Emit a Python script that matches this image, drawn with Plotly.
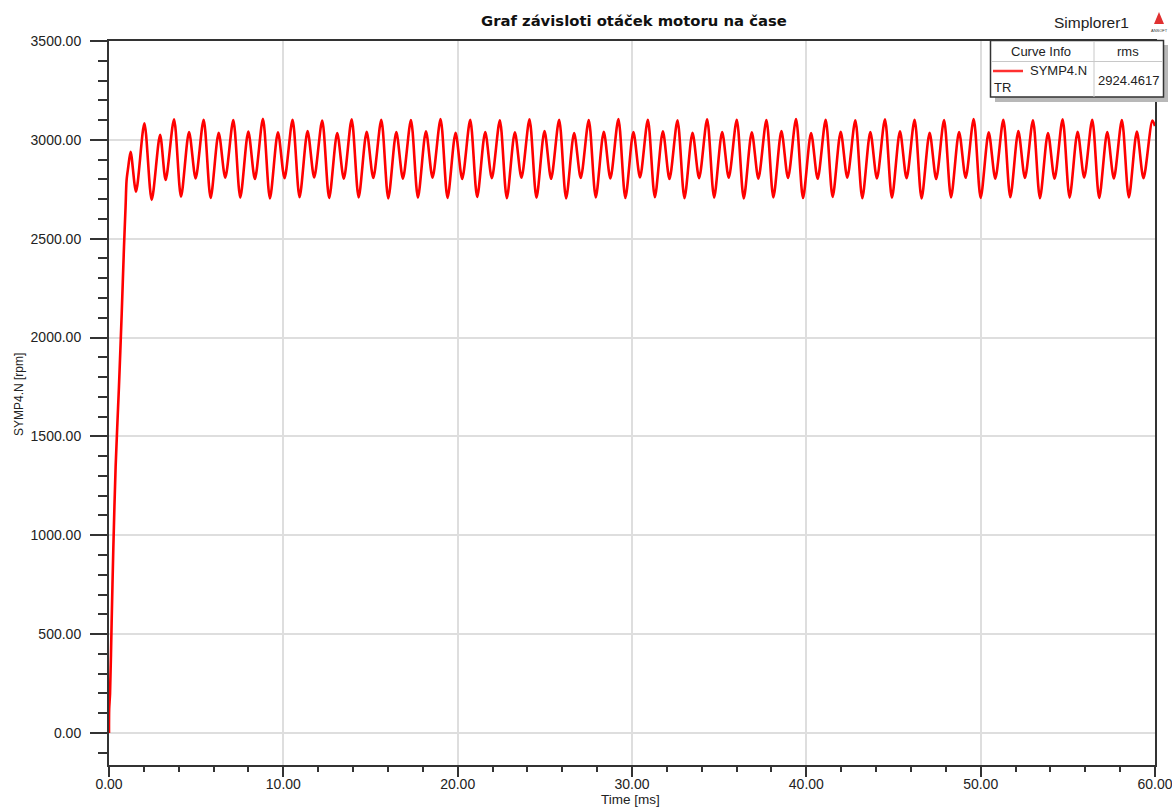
import plotly.graph_objects as go

# ---- data ----
startup_t = [0.0, 0.01, 0.06, 0.15, 0.25, 0.38, 0.57, 0.73, 0.86, 0.95, 1.01, 1.10, 1.24, 1.55, 2.03, 2.45, 2.93, 3.25]
startup_v = [0, 120, 200, 556, 941, 1346, 1750, 2124, 2459, 2660, 2797, 2860, 2940, 2738, 3084, 2696, 3025, 2797]

big_t = [3.73, 5.43, 7.13, 8.83, 10.53, 12.23, 13.92, 15.62, 17.32, 19.02, 20.72, 22.42, 24.12, 25.82,
         27.52, 29.22, 30.91, 32.61, 34.31, 36.01, 37.71, 39.41, 41.11, 42.81, 44.51, 46.21, 47.90,
         49.60, 51.30, 53.00, 54.70, 56.40, 58.10, 59.85]
big_v = [3104, 3102, 3100, 3106, 3101, 3098, 3104, 3102, 3100, 3105, 3101, 3099, 3104, 3102, 3100, 3105,
         3101, 3099, 3104, 3102, 3100, 3105, 3101, 3099, 3104, 3102, 3100, 3105, 3101, 3099, 3104, 3102,
         3100, 3098]

deep_t = [4.13, 5.83, 7.53, 9.23, 10.93, 12.63, 14.32, 16.02, 17.72, 19.42, 21.12, 22.82, 24.52, 26.22,
          27.92, 29.62, 31.31, 33.01, 34.71, 36.41, 38.11, 39.81, 41.51, 43.21, 44.91, 46.61, 48.30,
          50.00, 51.70, 53.40, 55.10, 56.80, 58.50]
deep_v = [2712, 2706, 2708, 2704, 2710, 2706, 2709, 2704, 2708, 2706, 2711, 2705, 2707, 2704, 2709, 2706,
          2710, 2705, 2708, 2704, 2709, 2706, 2711, 2705, 2707, 2704, 2709, 2706, 2710, 2705, 2708, 2706,
          2709]

small_t = [4.59, 6.29, 7.99, 9.69, 11.39, 13.09, 14.78, 16.48, 18.18, 19.88, 21.58, 23.28, 24.98, 26.68,
           28.38, 30.08, 31.77, 33.47, 35.17, 36.87, 38.57, 40.27, 41.97, 43.67, 45.37, 47.07, 48.76,
           50.46, 52.16, 53.86, 55.56, 57.26, 58.96]
small_v = [3040, 3036, 3042, 3038, 3044, 3035, 3041, 3039, 3043, 3036, 3040, 3038, 3044, 3035, 3041, 3039,
           3043, 3036, 3040, 3038, 3044, 3035, 3041, 3039, 3043, 3036, 3040, 3038, 3044, 3035, 3041, 3039,
           3042]

shallow_t = [4.97, 6.67, 8.37, 10.07, 11.77, 13.47, 15.16, 16.86, 18.56, 20.26, 21.96, 23.66, 25.36, 27.06,
             28.76, 30.46, 32.15, 33.85, 35.55, 37.25, 38.95, 40.65, 42.35, 44.05, 45.75, 47.45, 49.14,
             50.84, 52.54, 54.24, 55.94, 57.64, 59.34]
shallow_v = [2805, 2808, 2802, 2806, 2810, 2803, 2807, 2804, 2809, 2802, 2806, 2808, 2803, 2807, 2805, 2810,
             2802, 2806, 2808, 2804, 2807, 2803, 2809, 2805, 2806, 2802, 2808, 2804, 2807, 2803, 2809, 2805,
             2806]

end_t = [60.0]
end_v = [3070]

curve_name = "SYMP4.N"
curve_name2 = "TR"
rms_value = "2924.4617"

# ---- assemble the series ----
pts = list(zip(startup_t, startup_v)) + list(zip(big_t, big_v)) + list(zip(deep_t, deep_v)) \
    + list(zip(small_t, small_v)) + list(zip(shallow_t, shallow_v)) + list(zip(end_t, end_v))
pts.sort(key=lambda p: p[0])
t_all = [p[0] for p in pts]
v_all = [p[1] for p in pts]

FONT = "Liberation Sans, Arial, sans-serif"
AX = "#333333"

fig = go.Figure()
fig.add_trace(go.Scatter(x=t_all, y=v_all, mode="lines",
                         line=dict(color="#ff0000", width=2.6, shape="spline", smoothing=0.8),
                         showlegend=False, hoverinfo="skip"))

L, R, T, B = 109, 17, 41, 42
W, H = 1172, 807
pw, ph = W - L - R, H - T - B


def px(x):
    return (x - L) / pw


def py(y):
    return (H - B - y) / ph


fig.update_layout(
    width=W, height=H,
    margin=dict(l=L, r=R, t=T, b=B, autoexpand=False),
    paper_bgcolor="white", plot_bgcolor="white",
    font=dict(family=FONT, size=14, color="#222222"),
    xaxis=dict(range=[0, 60], showline=True, linecolor=AX, linewidth=2, mirror=True,
               ticks="outside", ticklen=10, tickwidth=1.5, tickcolor=AX,
               tick0=0, dtick=10, tickformat=".2f",
               showgrid=True, gridcolor="#dedede", gridwidth=1.5, zeroline=False,
               minor=dict(ticks="outside", ticklen=5, tickwidth=1.5, tickcolor=AX, dtick=2, showgrid=False),
               ticklabelstandoff=-5, ticklabeloverflow="allow",
               tickfont=dict(size=14, color="#222222")),
    yaxis=dict(range=[-162, 3500], showline=True, linecolor=AX, linewidth=2, mirror=True,
               ticks="outside", ticklen=17, tickwidth=1.5, tickcolor=AX,
               tick0=0, dtick=500, tickformat=".2f",
               showgrid=True, gridcolor="#dedede", gridwidth=1.5, zeroline=False,
               minor=dict(ticks="outside", ticklen=9, tickwidth=1.5, tickcolor=AX, dtick=100, showgrid=False),
               ticklabelstandoff=6, ticklabeloverflow="allow",
               tickfont=dict(size=14, color="#222222")),
)

ann = []
ann.append(dict(text="<b>Graf závisloti otáček motoru na čase</b>", x=px(634), y=py(20),
                xref="paper", yref="paper", showarrow=False, xanchor="center", yanchor="middle",
                font=dict(size=14.8, color="#111111", family="DejaVu Sans, sans-serif")))
ann.append(dict(text="Simplorer1", x=px(1091), y=py(22), xref="paper", yref="paper", showarrow=False,
                xanchor="center", yanchor="middle", font=dict(size=15.5, color="#222222", family=FONT)))
ann.append(dict(text="Time [ms]", x=px(630), y=py(800), xref="paper", yref="paper", showarrow=False,
                xanchor="center", yanchor="middle", font=dict(size=13.5, color="#222222", family=FONT)))
ann.append(dict(text="SYMP4.N [rpm]", x=px(19), y=py(395), xref="paper", yref="paper", showarrow=False,
                textangle=-90, xanchor="center", yanchor="middle",
                font=dict(size=12, color="#222222", family=FONT)))
# legend table texts
ann.append(dict(text="Curve Info", x=px(1041), y=py(51), xref="paper", yref="paper", showarrow=False,
                xanchor="center", yanchor="middle", font=dict(size=13, color="#222222", family=FONT)))
ann.append(dict(text="rms", x=px(1128), y=py(51), xref="paper", yref="paper", showarrow=False,
                xanchor="center", yanchor="middle", font=dict(size=13, color="#222222", family=FONT)))
ann.append(dict(text=curve_name, x=px(1089), y=py(71), xref="paper", yref="paper", showarrow=False,
                xanchor="right", yanchor="middle", font=dict(size=13, color="#222222", family=FONT)))
ann.append(dict(text=curve_name2, x=px(992), y=py(87), xref="paper", yref="paper", showarrow=False,
                xanchor="left", yanchor="middle", font=dict(size=13, color="#222222", family=FONT)))
ann.append(dict(text=rms_value, x=px(1128.5), y=py(80), xref="paper", yref="paper", showarrow=False,
                xanchor="center", yanchor="middle", font=dict(size=13, color="#222222", family=FONT)))
ann.append(dict(text="ANSOFT", x=px(1159), y=py(30), xref="paper", yref="paper", showarrow=False,
                xanchor="center", yanchor="middle", font=dict(size=4, color="#333333", family=FONT)))

shapes = []
# shadow
shapes.append(dict(type="rect", xref="paper", yref="paper", x0=px(995), x1=px(1168), y0=py(102), y1=py(45),
                   fillcolor="#b8b8b8", line=dict(width=0), layer="above"))
# box
shapes.append(dict(type="rect", xref="paper", yref="paper", x0=px(990.5), x1=px(1163.5), y0=py(97), y1=py(40.5),
                   fillcolor="white", line=dict(color="#333333", width=1.5), layer="above"))
shapes.append(dict(type="line", xref="paper", yref="paper", x0=px(991), x1=px(1163), y0=py(61.5), y1=py(61.5),
                   line=dict(color="#c8c8c8", width=1), layer="above"))
shapes.append(dict(type="line", xref="paper", yref="paper", x0=px(1094), x1=px(1094), y0=py(41), y1=py(97),
                   line=dict(color="#c8c8c8", width=1), layer="above"))
# legend line sample
shapes.append(dict(type="line", xref="paper", yref="paper", x0=px(993), x1=px(1023), y0=py(71), y1=py(71),
                   line=dict(color="#ff3030", width=2.5), layer="above"))
# right border extension below axis
shapes.append(dict(type="line", xref="paper", yref="paper", x0=px(1155), x1=px(1155), y0=py(765), y1=py(775),
                   line=dict(color=AX, width=2), layer="above"))
# top border extension left
shapes.append(dict(type="line", xref="paper", yref="paper", x0=px(92), x1=px(109), y0=py(41), y1=py(41),
                   line=dict(color=AX, width=1.5), layer="above"))
# logo triangle
shapes.append(dict(type="path", xref="paper", yref="paper",
                   path="M {} {} L {} {} L {} {} Z".format(px(1159), py(12), px(1154), py(24), px(1164), py(24)),
                   fillcolor="#e03030", line=dict(width=0), layer="above"))

fig.update_layout(annotations=ann, shapes=shapes)
fig.write_html("out.html")
